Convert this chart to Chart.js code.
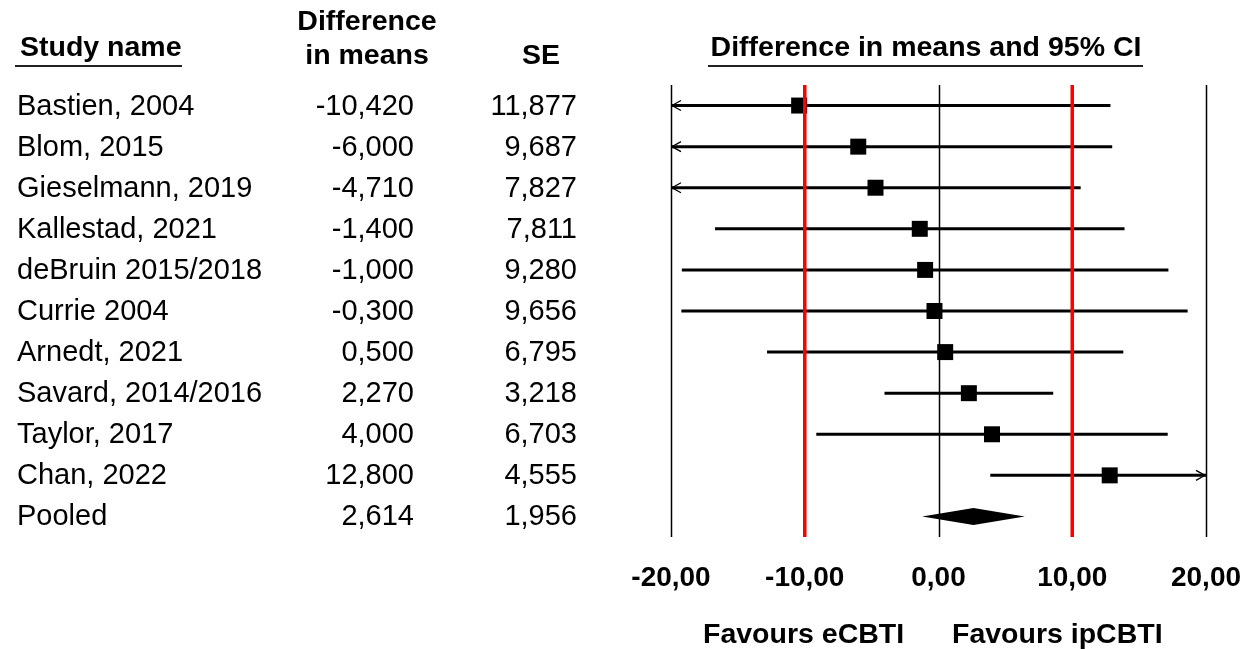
<!DOCTYPE html>
<html>
<head>
<meta charset="utf-8">
<script src="https://cdn.jsdelivr.net/npm/chart.js@4.4.0/dist/chart.umd.min.js"></script>
<style>
  html, body { margin: 0; padding: 0; background: #fff; }
  #wrap { width: 1243px; height: 649px; position: relative; }
</style>
</head>
<body>
<div id="wrap"><canvas id="forest"></canvas></div>
<script>
// data
const studies = ['Bastien, 2004', 'Blom, 2015', 'Gieselmann, 2019', 'Kallestad, 2021', 'deBruin 2015/2018',
  'Currie 2004', 'Arnedt, 2021', 'Savard, 2014/2016', 'Taylor, 2017', 'Chan, 2022'];
const diffs = [-10.42, -6.0, -4.71, -1.4, -1.0, -0.3, 0.5, 2.27, 4.0, 12.8];
const ses = [11.877, 9.687, 7.827, 7.811, 9.28, 9.656, 6.795, 3.218, 6.703, 4.555];
const pooledLabel = 'Pooled';
const pooledDiff = 2.614;
const pooledSe = 1.956;
const xTicks = [-20, -10, 0, 10, 20];
const refLines = [-10, 10];
const favours = ['Favours eCBTI', 'Favours ipCBTI'];

const FONT = '"Liberation Sans", Arial, sans-serif';
const fmt = (v, d) => v.toFixed(d).replace('.', ',');

const forestPlugin = {
    id: 'forest',
    beforeDatasetsDraw(chart) {
        const ctx = chart.ctx;
        const xs = chart.scales.x, ys = chart.scales.y;
        const xmin = xTicks[0], xmax = xTicks[xTicks.length - 1];
        ctx.save();
        // zero and outer lines
        ctx.strokeStyle = '#000';
        ctx.lineWidth = 1.5;
        [xmin, 0, xmax].forEach(v => {
            const px = Math.round(xs.getPixelForValue(v)) + 0.5;
            ctx.beginPath();
            ctx.moveTo(px, chart.chartArea.top);
            ctx.lineTo(px, chart.chartArea.bottom);
            ctx.stroke();
        });
        // confidence intervals
        diffs.forEach((d, i) => {
            const lo = d - 1.96 * ses[i], hi = d + 1.96 * ses[i];
            const py = ys.getPixelForValue(i);
            const x1 = xs.getPixelForValue(Math.max(lo, xmin));
            const x2 = xs.getPixelForValue(Math.min(hi, xmax));
            ctx.lineWidth = 3;
            ctx.beginPath();
            ctx.moveTo(x1, py);
            ctx.lineTo(x2, py);
            ctx.stroke();
            ctx.lineWidth = 1.3;
            if (lo < xmin) {
                ctx.beginPath();
                ctx.moveTo(x1 + 10, py - 5);
                ctx.lineTo(x1 + 1, py);
                ctx.lineTo(x1 + 10, py + 5);
                ctx.stroke();
            }
            if (hi > xmax) {
                ctx.beginPath();
                ctx.moveTo(x2 - 10, py - 5);
                ctx.lineTo(x2 - 1, py);
                ctx.lineTo(x2 - 10, py + 5);
                ctx.stroke();
            }
        });
        ctx.restore();
    },
    afterDatasetsDraw(chart) {
        const ctx = chart.ctx;
        const xs = chart.scales.x, ys = chart.scales.y;
        ctx.save();
        // pooled diamond
        const py = ys.getPixelForValue(studies.length);
        const lo = xs.getPixelForValue(pooledDiff - 1.96 * pooledSe);
        const hi = xs.getPixelForValue(pooledDiff + 1.96 * pooledSe);
        const mid = xs.getPixelForValue(pooledDiff);
        ctx.fillStyle = '#000';
        ctx.beginPath();
        ctx.moveTo(lo, py);
        ctx.lineTo(mid, py - 8.5);
        ctx.lineTo(hi, py);
        ctx.lineTo(mid, py + 8.5);
        ctx.closePath();
        ctx.fill();
        // red reference lines
        ctx.strokeStyle = '#ff0000';
        ctx.lineWidth = 3.5;
        refLines.forEach(v => {
            const px = xs.getPixelForValue(v);
            ctx.beginPath();
            ctx.moveTo(px, chart.chartArea.top);
            ctx.lineTo(px, chart.chartArea.bottom);
            ctx.stroke();
        });

        // table text
        ctx.fillStyle = '#000';
        ctx.textBaseline = 'middle';
        ctx.font = '29px ' + FONT;
        const rows = studies.concat([pooledLabel]);
        const dv = diffs.concat([pooledDiff]);
        const sv = ses.concat([pooledSe]);
        rows.forEach((name, i) => {
            const y = ys.getPixelForValue(i) + 1;
            ctx.textAlign = 'left';
            ctx.fillText(name, 17, y);
            ctx.textAlign = 'right';
            ctx.fillText(fmt(dv[i], 3), 414, y);
            ctx.fillText(fmt(sv[i], 3), 577, y);
        });

        // headers
        ctx.font = 'bold 28.5px ' + FONT;
        ctx.textAlign = 'left';
        ctx.fillText('Study name', 20, 48);
        ctx.textAlign = 'center';
        ctx.fillText('Difference', 367, 22);
        ctx.fillText('in means', 367, 56);
        ctx.fillText('SE', 541, 56);
        ctx.fillText('Difference in means and 95% CI', 926, 48);
        ctx.strokeStyle = '#222';
        ctx.lineWidth = 2;
        ctx.beginPath();
        ctx.moveTo(15, 66); ctx.lineTo(182, 66);
        ctx.moveTo(708, 66); ctx.lineTo(1143, 66);
        ctx.stroke();

        // footer
        ctx.font = 'bold 28.5px ' + FONT;
        ctx.textAlign = 'left';
        ctx.fillText(favours[0], 703, 635);
        ctx.fillText(favours[1], 952, 635);
        ctx.restore();
    }
};

new Chart(document.getElementById('forest').getContext('2d'), {
    type: 'scatter',
    data: {
        datasets: [{
            data: diffs.map((d, i) => ({ x: d, y: i })),
            pointStyle: 'rect',
            pointRadius: 11.3,
            pointHoverRadius: 11.3,
            backgroundColor: '#000',
            borderWidth: 0
        }]
    },
    options: {
        responsive: true,
        maintainAspectRatio: false,
        animation: false,
        events: [],
        layout: { padding: { left: 671, right: 37, top: 85, bottom: 0 } },
        plugins: { legend: { display: false }, tooltip: { enabled: false } },
        scales: {
            x: {
                type: 'linear',
                min: xTicks[0],
                max: xTicks[xTicks.length - 1],
                afterBuildTicks: axis => { axis.ticks = xTicks.map(v => ({ value: v })); },
                afterFit: axis => {
                    axis.height = 112;
                    axis.paddingLeft = 0;
                    axis.paddingRight = 0;
                },
                grid: { display: false, drawTicks: false },
                border: { display: false },
                ticks: {
                    padding: 24,
                    color: '#000',
                    font: { family: FONT, size: 28, weight: 'bold' },
                    callback: v => fmt(v, 2)
                }
            },
            y: {
                type: 'linear',
                reverse: true,
                min: -0.5,
                max: studies.length + 0.5,
                display: false
            }
        }
    },
    plugins: [forestPlugin]
});
</script>
</body>
</html>
